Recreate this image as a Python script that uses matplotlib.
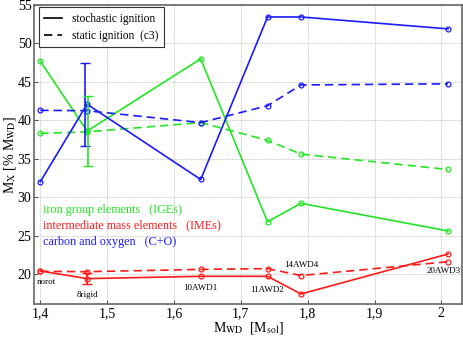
import matplotlib
matplotlib.use("Agg")
import matplotlib.pyplot as plt
from matplotlib.lines import Line2D
from matplotlib.ticker import FuncFormatter

plt.rcParams["font.family"] = ["Liberation Serif", "DejaVu Serif"]
plt.rcParams["mathtext.fontset"] = "stix"

m_wd = [1.40, 1.47, 1.64, 1.74, 1.79, 2.01]
model_names = ["norot", "8rigid", "10AWD1", "11AWD2", "14AWD4", "20AWD3"]

ige_stoch = [47.7, 38.6, 48.0, 26.8, 29.2, 25.6]
ige_static = [38.3, 38.5, 39.7, 37.4, 35.6, 33.6]
co_stoch = [32.0, 42.1, 32.3, 53.45, 53.45, 51.9]
co_static = [41.3, 41.25, 39.7, 41.9, 44.6, 44.75]
ime_stoch = [20.4, 19.4, 19.7, 19.7, 17.4, 22.6]
ime_static = [20.35, 20.3, 20.6, 20.7, 19.8, 21.6]

# errors for the 8rigid stochastic model
err_x = 1.47
ige_err = 4.6
co_err = 5.4
ime_err = 0.7

# label placement (x, y) per model name
label_x = [1.395, 1.47, 1.64, 1.74, 1.79, 2.004]
label_y = [18.9, 17.3, 18.2, 17.9, 21.2, 20.4]

GREEN = "#22e622"
RED = "#ff1a1a"
BLUE = "#1a1aff"

fig = plt.figure(figsize=(4.63, 3.37), dpi=100)
ax = fig.add_axes([0.074, 0.098, 0.924, 0.887])

for vals, col, ls in [
    (ige_stoch, GREEN, "-"), (ige_static, GREEN, "--"),
    (co_stoch, BLUE, "-"), (co_static, BLUE, "--"),
    (ime_stoch, RED, "-"), (ime_static, RED, "--"),
]:
    ax.plot(m_wd, vals, color=col, ls=ls, lw=1.2, marker="o", ms=3.5,
            mfc="none", mew=0.9, dashes=(5, 3) if ls == "--" else (None, None))

ax.errorbar([err_x - 0.003], [co_stoch[1]], yerr=co_err, color=BLUE, lw=1.2,
            capsize=3.5, capthick=1.0, fmt="none")
ax.errorbar([err_x + 0.002], [ige_stoch[1]], yerr=ige_err, color=GREEN, lw=1.2,
            capsize=3.5, capthick=1.0, fmt="none")
ax.errorbar([err_x], [ime_stoch[1]], yerr=ime_err, color=RED, lw=1.2,
            capsize=3.5, capthick=1.0, fmt="none")

for name, x, y in zip(model_names, label_x, label_y):
    ha = "left" if name == "norot" else "center"
    ax.text(x, y, name, fontsize=6.5, ha=ha, va="center")

ax.text(1.404, 28.3, "iron group elements   (IGEs)", color=GREEN, fontsize=8.7,
        va="center")
ax.text(1.404, 26.35, "intermediate mass elements   (IMEs)", color=RED,
        fontsize=8.7, va="center")
ax.text(1.404, 24.2, "carbon and oxygen   (C+O)", color=BLUE, fontsize=8.7,
        va="center")

ax.set_xlim(1.391, 2.031)
ax.set_ylim(16.1, 55)
ax.set_xticks([1.4, 1.5, 1.6, 1.7, 1.8, 1.9, 2.0])
ax.set_yticks([20, 25, 30, 35, 40, 45, 50, 55])
ax.xaxis.set_major_formatter(FuncFormatter(
    lambda v, p: "2" if abs(v - 2) < 1e-9 else f"{v:.1f}".replace(".", ",")))
ax.tick_params(labelsize=10, direction="in", length=3, color="#555555", pad=2)
ax.grid(True, color="#cccccc", lw=0.6, ls=(0, (2, 1)))
for s in ax.spines.values():
    s.set_color("#666666")
    s.set_linewidth(1.2)

ax.set_xlabel(r"M$_{\rm WD}$  [M$_{\rm sol}$]", fontsize=10, labelpad=0)
ax.set_ylabel(r"M$_{\rm X}$ [% M$_{\rm WD}$]", fontsize=10, labelpad=0)

handles = [Line2D([], [], color="black", lw=1.2, ls="-"),
           Line2D([], [], color="black", lw=1.2, dashes=(5, 3))]
leg = ax.legend(handles, ["stochastic ignition", "static ignition  (c3)"],
                loc="upper left", fontsize=8.3, fancybox=False, framealpha=1,
                edgecolor="#333333", handlelength=1.5, handletextpad=0.9,
                borderpad=0.5, labelspacing=0.4, borderaxespad=0.2,
                bbox_to_anchor=(0.005, 1.0))
leg.get_frame().set_linewidth(0.8)

fig.savefig("out.png", dpi=100)
